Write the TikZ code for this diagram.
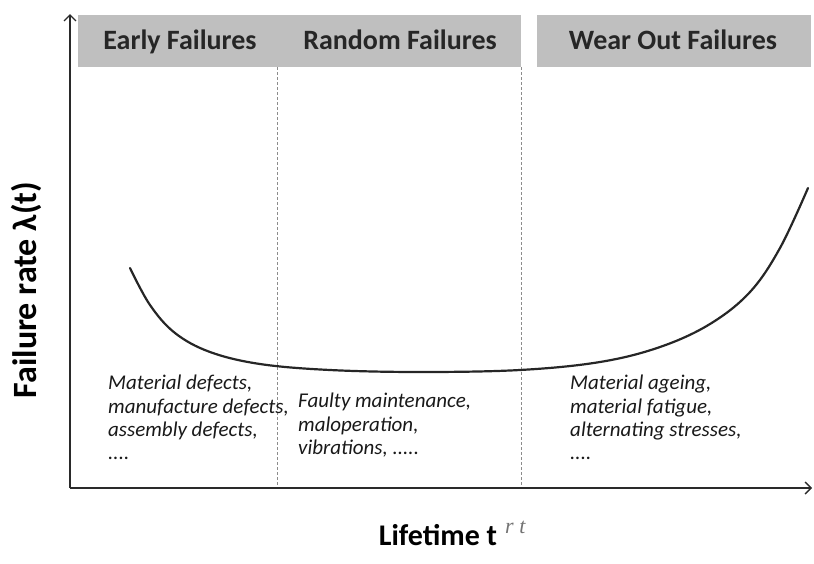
\documentclass[tikz,border=0pt]{standalone}
\usepackage{fontspec}
\setmainfont{Carlito}
\newfontfamily\rtfont{Liberation Serif}
\usetikzlibrary{arrows.meta}
\definecolor{hdrgray}{HTML}{BFBFBF}
\definecolor{dashgray}{HTML}{8C8C8C}
\definecolor{axisgray}{HTML}{2A2A2A}
\tikzset{
  hdrbox/.style={fill=hdrgray, draw=none},
  hdrtext/.style={font=\fontsize{28}{32}\selectfont\bfseries, text=black!85, inner sep=0pt, anchor=base},
  cause/.style={font=\fontsize{21}{23.3}\selectfont\itshape, align=left, anchor=north west, inner sep=0pt, text=black!90},
  divider/.style={dashgray, densely dashed, line width=0.9pt},
  axis/.style={axisgray, line width=1.8pt, -{Straight Barb[length=6pt, width=12pt, line width=1.4pt]}},
}
\begin{document}
\begin{tikzpicture}[x=1pt,y=-1pt]
\useasboundingbox (0,0) rectangle (814,563);
% header boxes
\fill[hdrbox] (78,15) rectangle (521,67);
\fill[hdrbox] (537,15) rectangle (811,67);
\node[hdrtext] (early) at (180,49) {Early Failures};
\node[hdrtext] (random) at (400,49) {Random Failures};
\node[hdrtext] (wear) at (673,49) {Wear Out Failures};
% dividers
\coordinate (d1t) at (277,67); \coordinate (d1b) at (277,488);
\coordinate (d2t) at (521,67); \coordinate (d2b) at (521,488);
\draw[divider] (d1t) -- (d1b);
\draw[divider] (d2t) -- (d2b);
% axes
\coordinate (o) at (70,488);
\coordinate (ytop) at (70,14);
\coordinate (xend) at (812,488);
\draw[axis] (o) -- (ytop);
\draw[axis] (o) -- (xend);
% bathtub curve
\draw[black!85, line width=2.2pt, line cap=round] plot[smooth, tension=0.6] coordinates {
 (130,268) (150,305) (175,333) (210,352) (260,364) (330,370) (420,372) (520,370)
 (600,362) (660,347) (710,324) (750,292) (780,248) (808,188)};
% causes
\node[cause] (c1) at (108,375) {Material defects,\\manufacture defects,\\assembly defects,\\....};
\node[cause] (c2) at (298,393) {Faulty maintenance,\\maloperation,\\vibrations, .....};
\node[cause] (c3) at (570,375) {Material ageing,\\material fatigue,\\alternating stresses,\\....};
% axis labels
\node[font=\fontsize{34}{38}\selectfont\bfseries, rotate=90, inner sep=0pt] (ylab) at (26,290) {Failure rate λ(t)};
\node[font=\fontsize{30}{34}\selectfont\bfseries, inner sep=0pt, anchor=base] (xlab) at (438,545) {Lifetime t};
\node[font=\fontsize{22}{24}\selectfont\itshape, text=black!55, inner sep=0pt, anchor=base west] (rt) at (505,533) {\rtfont r t};
\end{tikzpicture}
\end{document}
